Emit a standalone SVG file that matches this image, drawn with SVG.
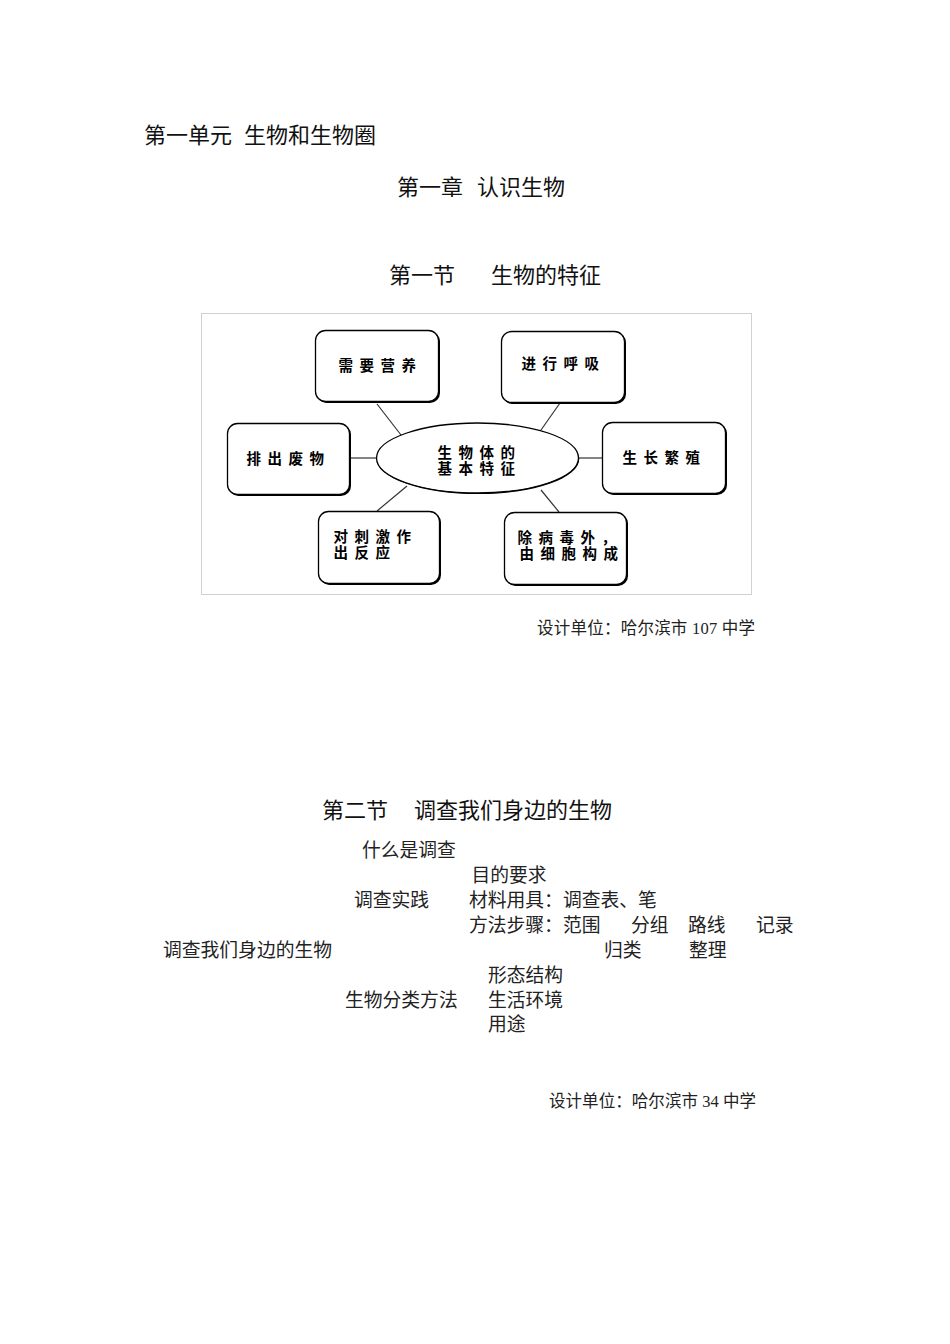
<svg xmlns="http://www.w3.org/2000/svg" width="950" height="1344" viewBox="0 0 950 1344">
<style>
.h{font-family:"Noto Sans CJK SC","Noto Sans",sans-serif;font-size:22px;fill:#111}
.b{font-family:"Liberation Sans","Noto Sans CJK SC",sans-serif;font-size:18.8px;fill:#222}
.f{font-family:"Liberation Serif","Noto Sans CJK SC",serif;font-size:16.5px;fill:#222}
.n{font-family:"Liberation Sans","Noto Sans CJK SC",sans-serif;font-size:14.5px;font-weight:bold;letter-spacing:6.5px;fill:#000}
.box{fill:#fff;stroke:#000;stroke-width:1.3}
.sh{fill:#000}
.ln{stroke:#333;stroke-width:1.2;fill:none}
</style>
<rect width="950" height="1344" fill="#fff"/>
<g id="titles">
<text class="h" x="144" y="143">第一单元</text>
<text class="h" x="244" y="143">生物和生物圈</text>
<text class="h" x="397" y="195">第一章</text>
<text class="h" x="477" y="195">认识生物</text>
<text class="h" x="389" y="283">第一节</text>
<text class="h" x="491" y="283">生物的特征</text>
</g>
<rect id="frame" x="201.5" y="313.5" width="550" height="281" fill="none" stroke="#d0d0d0" stroke-width="1"/>
<g id="connectors">
<line class="ln" x1="377" y1="404" x2="401" y2="435"/>
<line class="ln" x1="560" y1="403" x2="541" y2="430"/>
<line class="ln" x1="350" y1="458" x2="377" y2="458"/>
<line class="ln" x1="579" y1="458" x2="603" y2="458"/>
<line class="ln" x1="377" y1="511" x2="407" y2="486"/>
<line class="ln" x1="541" y1="490" x2="559" y2="512"/>
</g>
<g id="n-need">
<rect class="sh" x="316.5" y="331.5" width="123.5" height="71.5" rx="10"/>
<rect class="box" x="315.5" y="330.5" width="123" height="71" rx="10"/>
<text class="n" x="338.5" y="370.5">需要营养</text>
</g>
<g id="n-breath">
<rect class="sh" x="502.5" y="332.5" width="123.5" height="71.5" rx="10"/>
<rect class="box" x="501.5" y="331.5" width="123" height="71" rx="10"/>
<text class="n" x="521.5" y="368.5">进行呼吸</text>
</g>
<g id="n-excrete">
<rect class="sh" x="228.5" y="424.5" width="122.5" height="71.5" rx="10"/>
<rect class="box" x="227.5" y="423.5" width="122" height="71" rx="10"/>
<text class="n" x="246.5" y="463.5">排出废物</text>
</g>
<g id="n-grow">
<rect class="sh" x="603.5" y="423.5" width="123.5" height="71.5" rx="10"/>
<rect class="box" x="602.5" y="422.5" width="123" height="71" rx="10"/>
<text class="n" x="622.5" y="462.5">生长繁殖</text>
</g>
<g id="n-stimulus">
<rect class="sh" x="319.5" y="512.5" width="121.5" height="72.5" rx="10"/>
<rect class="box" x="318.5" y="511.5" width="121" height="72" rx="10"/>
<text class="n" x="333.5" y="542">对刺激作<tspan x="333.5" dy="16.3">出反应</tspan></text>
</g>
<g id="n-cell">
<rect class="sh" x="505.5" y="513.5" width="122.5" height="72.5" rx="10"/>
<rect class="box" x="504.5" y="512.5" width="122" height="72" rx="10"/>
<text class="n" x="517.5" y="543">除病毒外，<tspan x="519.5" dy="16.3">由细胞构成</tspan></text>
</g>
<g id="n-center">
<ellipse cx="478" cy="458.8" rx="101.3" ry="35.3" fill="#000"/>
<ellipse cx="477.5" cy="458" rx="101" ry="35" fill="#fff" stroke="#000" stroke-width="1.3"/>
<text class="n" x="437.5" y="458">生物体的<tspan x="437.5" dy="16.3">基本特征</tspan></text>
</g>
<text class="f" x="537" y="634" textLength="218" lengthAdjust="spacing">设计单位：哈尔滨市 107 中学</text>
<g id="section2">
<text class="h" x="322" y="818">第二节</text>
<text class="h" x="414" y="818">调查我们身边的生物</text>
<text class="b" x="362" y="857">什么是调查</text>
<text class="b" x="471.5" y="882">目的要求</text>
<text class="b" x="354" y="907">调查实践</text>
<text class="b" x="469" y="907">材料用具：调查表、笔</text>
<text class="b" x="469" y="932">方法步骤：范围</text>
<text class="b" x="631" y="932">分组</text>
<text class="b" x="688" y="932">路线</text>
<text class="b" x="756" y="932">记录</text>
<text class="b" x="163" y="957">调查我们身边的生物</text>
<text class="b" x="604" y="957">归类</text>
<text class="b" x="689" y="957">整理</text>
<text class="b" x="488" y="982">形态结构</text>
<text class="b" x="345" y="1007">生物分类方法</text>
<text class="b" x="488" y="1007">生活环境</text>
<text class="b" x="488" y="1031">用途</text>
</g>
<text class="f" x="549" y="1107" textLength="207" lengthAdjust="spacing">设计单位：哈尔滨市 34 中学</text>
</svg>
